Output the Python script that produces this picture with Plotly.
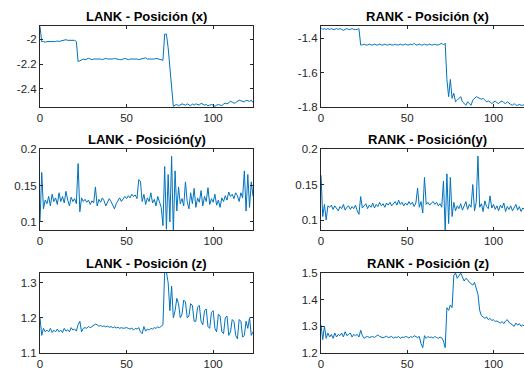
import plotly.graph_objects as go

# ---------------- data ----------------
t = list(range(124))

lank_x = [
    -1.90, -2.02, -2.02, -2.025, -2.02, -2.02, -2.025, -2.02, -2.02, -2.02,
    -2.015, -2.02, -2.015, -2.01, -2.01, -2.005, -2.01, -2.01, -2.005, -2.01,
    -2.01, -2.02, -2.18, -2.175, -2.165, -2.16, -2.165, -2.16, -2.155, -2.16,
    -2.165, -2.16, -2.16, -2.155, -2.16, -2.16, -2.165, -2.16, -2.155, -2.16,
    -2.16, -2.165, -2.16, -2.155, -2.16, -2.16, -2.165, -2.165, -2.16, -2.155,
    -2.16, -2.165, -2.16, -2.16, -2.155, -2.16, -2.16, -2.165, -2.16, -2.16,
    -2.155, -2.15, -2.16, -2.16, -2.165, -2.16, -2.16, -2.155, -2.16, -2.165,
    -2.165, -2.17, -1.96, -1.96, -2.07, -2.22, -2.43, -2.54, -2.53, -2.525,
    -2.535, -2.53, -2.52, -2.525, -2.53, -2.52, -2.525, -2.535, -2.52, -2.53,
    -2.52, -2.525, -2.53, -2.515, -2.52, -2.53, -2.525, -2.535, -2.53, -2.525,
    -2.53, -2.54, -2.53, -2.525, -2.53, -2.535, -2.52, -2.515, -2.52, -2.51,
    -2.50, -2.505, -2.515, -2.51, -2.50, -2.49, -2.495, -2.50, -2.505, -2.49,
    -2.495, -2.50, -2.49, -2.51,
]

rank_x = [
    -1.34, -1.35, -1.345, -1.35, -1.345, -1.35, -1.345, -1.35, -1.35, -1.345,
    -1.35, -1.345, -1.35, -1.355, -1.35, -1.345, -1.35, -1.35, -1.345, -1.35,
    -1.35, -1.35, -1.345, -1.44, -1.44, -1.435, -1.44, -1.44, -1.435, -1.44,
    -1.44, -1.435, -1.44, -1.44, -1.435, -1.44, -1.44, -1.435, -1.44, -1.44,
    -1.435, -1.44, -1.44, -1.435, -1.44, -1.44, -1.435, -1.44, -1.44, -1.435,
    -1.44, -1.44, -1.435, -1.44, -1.43, -1.44, -1.44, -1.435, -1.44, -1.44,
    -1.435, -1.44, -1.44, -1.435, -1.44, -1.44, -1.435, -1.44, -1.44, -1.435,
    -1.43, -1.44, -1.43, -1.64, -1.74, -1.64, -1.75, -1.72, -1.77, -1.76,
    -1.75, -1.74, -1.77, -1.78, -1.79, -1.77, -1.78, -1.79, -1.76, -1.75,
    -1.74, -1.745, -1.75, -1.755, -1.75, -1.76, -1.77, -1.765, -1.77, -1.78,
    -1.77, -1.765, -1.775, -1.78, -1.77, -1.765, -1.775, -1.78, -1.77, -1.78,
    -1.785, -1.79, -1.78, -1.79, -1.79, -1.785, -1.79, -1.79, -1.785, -1.79,
    -1.79, -1.79, -1.79, -1.79,
]

lank_y = [
    0.100, 0.168, 0.118, 0.130, 0.125, 0.135, 0.122, 0.138, 0.128, 0.133,
    0.124, 0.140, 0.128, 0.135, 0.126, 0.142, 0.130, 0.122, 0.134, 0.128,
    0.132, 0.125, 0.180, 0.114, 0.133, 0.128, 0.131, 0.127, 0.130, 0.124,
    0.129, 0.126, 0.148, 0.122, 0.131, 0.127, 0.133, 0.129, 0.122, 0.127,
    0.132, 0.128, 0.122, 0.118, 0.125, 0.130, 0.133, 0.128, 0.131, 0.135,
    0.132, 0.136, 0.133, 0.138, 0.135, 0.137, 0.132, 0.158, 0.156, 0.128,
    0.138, 0.124, 0.133, 0.128, 0.140, 0.126, 0.131, 0.122, 0.135, 0.128,
    0.120, 0.095, 0.176, 0.090, 0.165, 0.100, 0.190, 0.085, 0.170, 0.115,
    0.148, 0.125, 0.132, 0.122, 0.155, 0.128, 0.118, 0.140, 0.125, 0.146,
    0.120, 0.133, 0.127, 0.143, 0.122, 0.135, 0.128, 0.147, 0.124, 0.132,
    0.127, 0.138, 0.123, 0.130, 0.120, 0.133, 0.128, 0.136, 0.130, 0.141,
    0.135, 0.138, 0.132, 0.140, 0.136, 0.128, 0.140, 0.133, 0.170, 0.115,
    0.165, 0.120, 0.155, 0.135,
]

rank_y = [
    0.163, 0.105, 0.122, 0.100, 0.120, 0.118, 0.121, 0.115, 0.120, 0.117,
    0.113, 0.119, 0.116, 0.122, 0.114, 0.118, 0.120, 0.115, 0.119, 0.116,
    0.121, 0.113, 0.108, 0.133, 0.117, 0.120, 0.123, 0.116, 0.121, 0.118,
    0.124, 0.117, 0.122, 0.119, 0.125, 0.120, 0.123, 0.118, 0.124, 0.121,
    0.125, 0.120, 0.123, 0.126, 0.121, 0.128, 0.122, 0.125, 0.120, 0.124,
    0.121, 0.126, 0.122, 0.125, 0.119, 0.124, 0.145, 0.118, 0.126, 0.110,
    0.160, 0.122, 0.125, 0.121, 0.124, 0.126, 0.122, 0.125, 0.120, 0.123,
    0.118, 0.155, 0.085, 0.165, 0.095, 0.160, 0.105, 0.125, 0.113, 0.120,
    0.116, 0.123, 0.114, 0.120, 0.126, 0.115, 0.122, 0.118, 0.150, 0.113,
    0.125, 0.190, 0.118, 0.123, 0.112, 0.127, 0.119, 0.116, 0.134, 0.117,
    0.122, 0.115, 0.120, 0.113, 0.121, 0.117, 0.124, 0.112, 0.119, 0.115,
    0.120, 0.113, 0.118, 0.122, 0.114, 0.119, 0.112, 0.117, 0.115, 0.113,
    0.116, 0.112, 0.118, 0.115,
]

lank_z = [
    1.200, 1.150, 1.170, 1.160, 1.165, 1.160, 1.170, 1.158, 1.165, 1.160,
    1.168, 1.160, 1.165, 1.158, 1.170, 1.162, 1.166, 1.160, 1.172, 1.165,
    1.168, 1.162, 1.180, 1.190, 1.160, 1.170, 1.172, 1.170, 1.175, 1.172,
    1.175, 1.178, 1.182, 1.180, 1.176, 1.178, 1.175, 1.177, 1.174, 1.176,
    1.173, 1.175, 1.172, 1.174, 1.171, 1.173, 1.170, 1.172, 1.170, 1.171,
    1.172, 1.170, 1.168, 1.171, 1.165, 1.170, 1.168, 1.172, 1.160, 1.155,
    1.175, 1.162, 1.168, 1.165, 1.170, 1.168, 1.172, 1.170, 1.174, 1.172,
    1.175, 1.180, 1.330, 1.330, 1.300, 1.220, 1.290, 1.200, 1.220, 1.255,
    1.240, 1.200, 1.210, 1.250, 1.245, 1.200, 1.205, 1.240, 1.235, 1.190,
    1.190, 1.230, 1.235, 1.190, 1.180, 1.220, 1.225, 1.175, 1.170, 1.215,
    1.220, 1.170, 1.160, 1.210, 1.205, 1.160, 1.155, 1.200, 1.205, 1.150,
    1.160, 1.195, 1.190, 1.150, 1.140, 1.195, 1.190, 1.145, 1.150, 1.190,
    1.170, 1.200, 1.150, 1.160,
]

rank_z = [
    1.305, 1.250, 1.300, 1.255, 1.275, 1.260, 1.270, 1.255, 1.275, 1.260,
    1.270, 1.265, 1.275, 1.260, 1.280, 1.265, 1.270, 1.275, 1.260, 1.270,
    1.265, 1.270, 1.260, 1.285, 1.265, 1.255, 1.260, 1.262, 1.258, 1.260,
    1.262, 1.258, 1.265, 1.268, 1.262, 1.260, 1.257, 1.260, 1.263, 1.258,
    1.260, 1.262, 1.256, 1.260, 1.258, 1.262, 1.255, 1.260, 1.258, 1.262,
    1.260, 1.256, 1.262, 1.258, 1.265, 1.260, 1.258, 1.262, 1.235, 1.220,
    1.265, 1.255, 1.262, 1.258, 1.260, 1.256, 1.262, 1.258, 1.255, 1.260,
    1.257, 1.245, 1.220, 1.370, 1.360, 1.380, 1.370, 1.490, 1.500, 1.480,
    1.490, 1.500, 1.485, 1.470, 1.480, 1.475, 1.465, 1.460, 1.455, 1.465,
    1.445, 1.420, 1.360, 1.340, 1.335, 1.330, 1.335, 1.325, 1.330, 1.322,
    1.325, 1.318, 1.320, 1.315, 1.312, 1.318, 1.310, 1.320, 1.325, 1.315,
    1.310, 1.305, 1.300, 1.312, 1.305, 1.310, 1.300, 1.305, 1.300, 1.305,
    1.300, 1.305, 1.300, 1.300,
]

titles = ["LANK - Posición (x)", "RANK - Posición (x)",
          "LANK - Posición(y)", "RANK - Posición(y)",
          "LANK - Posición (z)", "RANK - Posición (z)"]

x_tickvals = [0, 50, 100]
x_ticktext = ["0", "50", "100"]

y_ticks = [
    ([-2.4, -2.2, -2.0], ["-2.4", "-2.2", "-2"]),
    ([-1.8, -1.6, -1.4], ["-1.8", "-1.6", "-1.4"]),
    ([0.1, 0.15, 0.2], ["0.1", "0.15", "0.2"]),
    ([0.1, 0.15, 0.2], ["0.1", "0.15", "0.2"]),
    ([1.1, 1.2, 1.3], ["1.1", "1.2", "1.3"]),
    ([1.2, 1.3, 1.4, 1.5], ["1.2", "1.3", "1.4", "1.5"]),
]

series = [lank_x, rank_x, lank_y, rank_y, lank_z, rank_z]

# ---------------- layout ----------------
W, H = 524, 372
x_ranges = [[0, 123], [0, 117.7]]
y_ranges = [[-2.545, -1.895], [-1.8, -1.33],
            [0.089, 0.2], [0.086, 0.2],
            [1.1, 1.327], [1.2, 1.5]]

col_dom = [[40 / W, 253 / W], [321 / W, 1.0]]
row_px = [(26, 107), (149, 230), (273, 353)]
row_dom = [[1 - b / H, 1 - a / H] for a, b in row_px]

LINE = "#0072BD"
AX = "#262626"
FONT = "Liberation Sans, Arial, sans-serif"

fig = go.Figure()
layout = dict(width=W, height=H, margin=dict(l=0, r=0, t=0, b=0, pad=0),
              autosize=False,
              paper_bgcolor="white", plot_bgcolor="white", showlegend=False,
              font=dict(family=FONT, size=11.5, color=AX))
annotations = []

for i in range(6):
    r, c = divmod(i, 2)
    k = "" if i == 0 else str(i + 1)
    fig.add_trace(go.Scatter(x=t, y=series[i], mode="lines",
                             line=dict(color=LINE, width=1),
                             xaxis="x" + k, yaxis="y" + k,
                             hoverinfo="skip"))
    layout["xaxis" + k] = dict(
        domain=col_dom[c], anchor="y" + k, range=x_ranges[c],
        tickvals=x_tickvals, ticktext=x_ticktext, automargin=False,
        ticks="inside", ticklen=3, tickcolor=AX, showgrid=False,
        zeroline=False, showline=True, linecolor=AX, linewidth=1,
        mirror="ticks", tickfont=dict(size=11.5, color=AX, family=FONT))
    layout["yaxis" + k] = dict(
        domain=row_dom[r], anchor="x" + k, range=y_ranges[i],
        tickvals=y_ticks[i][0], ticktext=y_ticks[i][1], automargin=False,
        ticks="inside", ticklen=3, tickcolor=AX, showgrid=False,
        zeroline=False, showline=True, linecolor=AX, linewidth=1,
        mirror=("ticks" if c == 0 else False),
        tickfont=dict(size=11.5, color=AX, family=FONT))
    cx = (col_dom[c][0] + col_dom[c][1]) / 2 if c == 0 else (321 + 534) / 2 / W
    annotations.append(dict(
        text="<b>" + titles[i] + "</b>", xref="paper", yref="paper",
        x=cx, y=row_dom[r][1], xanchor="center", yanchor="bottom",
        yshift=0, showarrow=False,
        font=dict(size=13, color="#000000", family=FONT)))

layout["annotations"] = annotations
fig.update_layout(**layout)
fig.write_html(
    "out.html",
    config={"displayModeBar": False, "staticPlot": True},
    post_script="document.body.style.margin='0';document.body.style.overflow='hidden';",
)
